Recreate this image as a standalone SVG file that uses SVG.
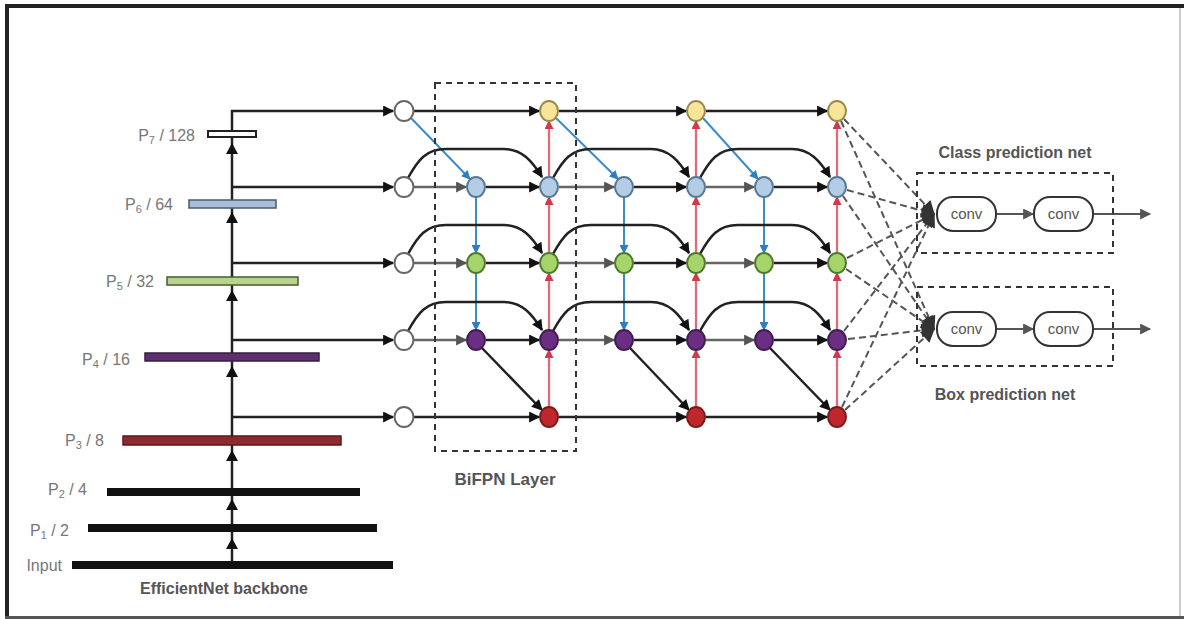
<svg xmlns="http://www.w3.org/2000/svg" width="1184" height="619" viewBox="0 0 1184 619">
<style>
.lbl{font-family:"Liberation Sans",Arial,sans-serif;font-size:16px;fill:#777}
.bold{font-family:"Liberation Sans",Arial,sans-serif;font-weight:bold;fill:#555}
.conv{font-family:"Liberation Sans",Arial,sans-serif;font-size:15px;fill:#555}
.blk{fill:none;stroke:#222;stroke-width:2.5;marker-end:url(#ab)}
.gry{fill:none;stroke:#666;stroke-width:2.5;marker-end:url(#ag)}
.blu{fill:none;stroke:#3a8ccc;stroke-width:2;marker-end:url(#abl)}
.red{fill:none;stroke:#e06a78;stroke-width:2.3;marker-end:url(#ar)}
.dsh{fill:none;stroke:#555;stroke-width:2;stroke-dasharray:7,4;marker-end:url(#ad)}
.box{fill:none;stroke:#333;stroke-width:2;stroke-dasharray:6,5}
.c0{fill:#fff;stroke:#666;stroke-width:2}
.cy{fill:#f8e59a;stroke:#9a8a50;stroke-width:2}
.cb{fill:#b3cde6;stroke:#5a7896;stroke-width:2}
.cg{fill:#a5d46a;stroke:#4e7a30;stroke-width:2}
.cp{fill:#6b2e83;stroke:#3e2050;stroke-width:2}
.cr{fill:#c0272d;stroke:#7a1c1c;stroke-width:2}
.cv{fill:#fff;stroke:#333;stroke-width:2}
</style>
<defs>
<marker id="ab" viewBox="0 0 10 10" refX="9" refY="5" markerWidth="14" markerHeight="11" markerUnits="userSpaceOnUse" orient="auto"><path d="M0,0L10,5L0,10z" fill="#111"/></marker>
<marker id="ag" viewBox="0 0 10 10" refX="9" refY="5" markerWidth="14" markerHeight="11" markerUnits="userSpaceOnUse" orient="auto"><path d="M0,0L10,5L0,10z" fill="#555"/></marker>
<marker id="abl" viewBox="0 0 10 10" refX="9" refY="5" markerWidth="12" markerHeight="9" markerUnits="userSpaceOnUse" orient="auto"><path d="M0,0L10,5L0,10z" fill="#2f7fc0"/></marker>
<marker id="ar" viewBox="0 0 10 10" refX="9" refY="5" markerWidth="12" markerHeight="9" markerUnits="userSpaceOnUse" orient="auto"><path d="M0,0L10,5L0,10z" fill="#d03a4a"/></marker>
<marker id="ad" viewBox="0 0 10 10" refX="9" refY="5" markerWidth="18" markerHeight="14" markerUnits="userSpaceOnUse" orient="auto"><path d="M0,0L10,5L0,10z" fill="#333"/></marker>
<marker id="ac" viewBox="0 0 10 10" refX="9" refY="5" markerWidth="14" markerHeight="11" markerUnits="userSpaceOnUse" orient="auto"><path d="M0,0L10,5L0,10z" fill="#555"/></marker>
</defs>
<rect width="1184" height="619" fill="#fff"/>
<g id="frame">
<rect x="5" y="4" width="1179" height="4" fill="#222"/>
<rect x="5" y="4" width="4" height="615" fill="#222"/>
<rect x="5" y="616" width="1179" height="3" fill="#555"/>
<rect x="1179" y="8" width="2" height="608" fill="#ccc"/>
</g>
<g id="connectors">
<path d="M232,565V111H393" fill="none" stroke="#222" stroke-width="2.5" marker-end="url(#ab)"/>
<g fill="#111">
<polygon points="226,154 232,143 238,154"/>
<polygon points="226,223 232,212 238,223"/>
<polygon points="226,301 232,290 238,301"/>
<polygon points="226,377 232,366 238,377"/>
<polygon points="226,461 232,450 238,461"/>
<polygon points="226,510 232,499 238,510"/>
<polygon points="226,549 232,538 238,549"/>
</g>
<path class="blk" d="M232,187H393"/>
<path class="blk" d="M232,263H393"/>
<path class="blk" d="M232,340H393"/>
<path class="blk" d="M232,417H393"/>
<!-- layer 1 -->
<path class="blk" d="M414,111H539"/>
<path class="gry" d="M414,187H466"/><path class="blk" d="M486,187H539"/>
<path class="gry" d="M414,263H466"/><path class="blk" d="M486,263H539"/>
<path class="gry" d="M414,340H466"/><path class="blk" d="M486,340H539"/>
<path class="blk" d="M414,417H539"/>
<path class="blu" d="M411,118L470,179"/>
<path class="blu" d="M476,197V253"/><path class="blu" d="M476,273V330"/>
<path class="red" d="M549,407V350"/><path class="red" d="M549,330V273"/><path class="red" d="M549,253V197"/><path class="red" d="M549,177V121"/>
<path class="blk" d="M482,348L542,410"/>
<path class="blk" d="M408,178C418,160 426,149 446,149L504,149C522,149 532,161 542,177"/>
<path class="blk" d="M408,254C418,236 426,225 446,225L504,225C522,225 532,237 542,253"/>
<path class="blk" d="M408,331C418,313 426,302 446,302L504,302C522,302 532,314 542,330"/>
<!-- layer 2 -->
<path class="blk" d="M559,111H686"/>
<path class="gry" d="M559,187H614"/><path class="blk" d="M634,187H686"/>
<path class="gry" d="M559,263H614"/><path class="blk" d="M634,263H686"/>
<path class="gry" d="M559,340H614"/><path class="blk" d="M634,340H686"/>
<path class="blk" d="M559,417H686"/>
<path class="blu" d="M556,118L618,179"/>
<path class="blu" d="M624,197V253"/><path class="blu" d="M624,273V330"/>
<path class="red" d="M696,407V350"/><path class="red" d="M696,330V273"/><path class="red" d="M696,253V197"/><path class="red" d="M696,177V121"/>
<path class="blk" d="M630,348L689,410"/>
<path class="blk" d="M553,178C563,160 571,149 591,149L651,149C669,149 679,161 689,177"/>
<path class="blk" d="M553,254C563,236 571,225 591,225L651,225C669,225 679,237 689,253"/>
<path class="blk" d="M553,331C563,313 571,302 591,302L651,302C669,302 679,314 689,330"/>
<!-- layer 3 -->
<path class="blk" d="M706,111H827"/>
<path class="gry" d="M706,187H754"/><path class="blk" d="M774,187H827"/>
<path class="gry" d="M706,263H754"/><path class="blk" d="M774,263H827"/>
<path class="gry" d="M706,340H754"/><path class="blk" d="M774,340H827"/>
<path class="blk" d="M706,417H827"/>
<path class="blu" d="M703,118L758,179"/>
<path class="blu" d="M764,197V253"/><path class="blu" d="M764,273V330"/>
<path class="red" d="M837,407V350"/><path class="red" d="M837,330V273"/><path class="red" d="M837,253V197"/><path class="red" d="M837,177V121"/>
<path class="blk" d="M770,348L830,410"/>
<path class="blk" d="M700,178C710,160 718,149 738,149L792,149C810,149 820,161 830,177"/>
<path class="blk" d="M700,254C710,236 718,225 738,225L792,225C810,225 820,237 830,253"/>
<path class="blk" d="M700,331C710,313 718,302 738,302L792,302C810,302 820,314 830,330"/>
<!-- to heads -->
<path class="dsh" d="M844,119L934,214"/><path class="dsh" d="M841,121L934,329"/>
<path class="dsh" d="M847,190L934,214"/><path class="dsh" d="M843,196L934,329"/>
<path class="dsh" d="M847,258L934,214"/><path class="dsh" d="M846,269L934,329"/>
<path class="dsh" d="M844,331L934,214"/><path class="dsh" d="M848,339L934,329"/>
<path class="dsh" d="M842,407L934,214"/><path class="dsh" d="M845,410L934,329"/>
<path d="M996,214H1033" fill="none" stroke="#555" stroke-width="2" marker-end="url(#ac)"/>
<path d="M1093,214H1150" fill="none" stroke="#555" stroke-width="2" marker-end="url(#ac)"/>
<path d="M996,329H1033" fill="none" stroke="#555" stroke-width="2" marker-end="url(#ac)"/>
<path d="M1093,329H1150" fill="none" stroke="#555" stroke-width="2" marker-end="url(#ac)"/>
</g>
<g id="backbone">
<g id="bar-p7"><rect x="208" y="131" width="48" height="6" fill="#fff" stroke="#222" stroke-width="2"/><text class="lbl" x="195" y="141" text-anchor="end">P<tspan font-size="11" dy="3">7</tspan><tspan dy="-3"> / 128</tspan></text></g>
<g id="bar-p6"><rect x="189" y="200" width="87" height="8" fill="#a9bfd8" stroke="#4a5a6a" stroke-width="1.5"/><text class="lbl" x="173" y="210" text-anchor="end">P<tspan font-size="11" dy="3">6</tspan><tspan dy="-3"> / 64</tspan></text></g>
<g id="bar-p5"><rect x="167" y="277" width="131" height="8" fill="#b6d48e" stroke="#4a5a2a" stroke-width="1.5"/><text class="lbl" x="154" y="287" text-anchor="end">P<tspan font-size="11" dy="3">5</tspan><tspan dy="-3"> / 32</tspan></text></g>
<g id="bar-p4"><rect x="145" y="353" width="174" height="8" fill="#5c2f6e" stroke="#3a1c46" stroke-width="1.5"/><text class="lbl" x="130" y="365" text-anchor="end">P<tspan font-size="11" dy="3">4</tspan><tspan dy="-3"> / 16</tspan></text></g>
<g id="bar-p3"><rect x="123" y="436" width="218" height="9" fill="#8e2a2e" stroke="#5a1a1a" stroke-width="1.5"/><text class="lbl" x="104" y="446" text-anchor="end">P<tspan font-size="11" dy="3">3</tspan><tspan dy="-3"> / 8</tspan></text></g>
<g id="bar-p2"><rect x="107" y="488" width="253" height="8" fill="#111"/><text class="lbl" x="87" y="495" text-anchor="end">P<tspan font-size="11" dy="3">2</tspan><tspan dy="-3"> / 4</tspan></text></g>
<g id="bar-p1"><rect x="88" y="524" width="289" height="8" fill="#111"/><text class="lbl" x="69" y="536" text-anchor="end">P<tspan font-size="11" dy="3">1</tspan><tspan dy="-3"> / 2</tspan></text></g>
<g id="bar-input"><rect x="72" y="561" width="321" height="8" fill="#111"/><text class="lbl" x="62" y="571" text-anchor="end" fill="#666">Input</text></g>
<text class="bold" x="224" y="594" font-size="16" text-anchor="middle">EfficientNet backbone</text>
</g>
<g id="nodes">
<g id="in-p7"><ellipse class="c0" cx="404" cy="111" rx="9.5" ry="10"/></g>
<g id="in-p6"><ellipse class="c0" cx="404" cy="187" rx="9.5" ry="10"/></g>
<g id="in-p5"><ellipse class="c0" cx="404" cy="263" rx="9.5" ry="10"/></g>
<g id="in-p4"><ellipse class="c0" cx="404" cy="340" rx="9.5" ry="10"/></g>
<g id="in-p3"><ellipse class="c0" cx="404" cy="417" rx="9.5" ry="10"/></g>
<g id="l1-mid-p6"><ellipse class="cb" cx="476" cy="187" rx="9" ry="10"/></g>
<g id="l1-mid-p5"><ellipse class="cg" cx="476" cy="263" rx="9" ry="10"/></g>
<g id="l1-mid-p4"><ellipse class="cp" cx="476" cy="340" rx="9" ry="10"/></g>
<g id="l1-out-p7"><ellipse class="cy" cx="549" cy="111" rx="9" ry="10"/></g>
<g id="l1-out-p6"><ellipse class="cb" cx="549" cy="187" rx="9" ry="10"/></g>
<g id="l1-out-p5"><ellipse class="cg" cx="549" cy="263" rx="9" ry="10"/></g>
<g id="l1-out-p4"><ellipse class="cp" cx="549" cy="340" rx="9" ry="10"/></g>
<g id="l1-out-p3"><ellipse class="cr" cx="549" cy="417" rx="9" ry="10"/></g>
<g id="l2-mid-p6"><ellipse class="cb" cx="624" cy="187" rx="9" ry="10"/></g>
<g id="l2-mid-p5"><ellipse class="cg" cx="624" cy="263" rx="9" ry="10"/></g>
<g id="l2-mid-p4"><ellipse class="cp" cx="624" cy="340" rx="9" ry="10"/></g>
<g id="l2-out-p7"><ellipse class="cy" cx="696" cy="111" rx="9" ry="10"/></g>
<g id="l2-out-p6"><ellipse class="cb" cx="696" cy="187" rx="9" ry="10"/></g>
<g id="l2-out-p5"><ellipse class="cg" cx="696" cy="263" rx="9" ry="10"/></g>
<g id="l2-out-p4"><ellipse class="cp" cx="696" cy="340" rx="9" ry="10"/></g>
<g id="l2-out-p3"><ellipse class="cr" cx="696" cy="417" rx="9" ry="10"/></g>
<g id="l3-mid-p6"><ellipse class="cb" cx="764" cy="187" rx="9" ry="10"/></g>
<g id="l3-mid-p5"><ellipse class="cg" cx="764" cy="263" rx="9" ry="10"/></g>
<g id="l3-mid-p4"><ellipse class="cp" cx="764" cy="340" rx="9" ry="10"/></g>
<g id="l3-out-p7"><ellipse class="cy" cx="837" cy="111" rx="9" ry="10"/></g>
<g id="l3-out-p6"><ellipse class="cb" cx="837" cy="187" rx="9" ry="10"/></g>
<g id="l3-out-p5"><ellipse class="cg" cx="837" cy="263" rx="9" ry="10"/></g>
<g id="l3-out-p4"><ellipse class="cp" cx="837" cy="340" rx="9" ry="10"/></g>
<g id="l3-out-p3"><ellipse class="cr" cx="837" cy="417" rx="9" ry="10"/></g>
</g>
<g id="bifpn-layer">
<rect class="box" x="435" y="83" width="141" height="368"/>
<text class="bold" x="505" y="485" font-size="17" text-anchor="middle">BiFPN Layer</text>
</g>
<g id="class-net">
<rect class="box" x="917" y="173" width="196" height="80"/>
<text class="bold" x="1015" y="158" font-size="16" text-anchor="middle">Class prediction net</text>
<g id="class-conv1"><rect class="cv" x="937" y="197" width="59" height="34" rx="16"/><text class="conv" x="966.5" y="219" text-anchor="middle">conv</text></g>
<g id="class-conv2"><rect class="cv" x="1034" y="197" width="59" height="34" rx="16"/><text class="conv" x="1063.5" y="219" text-anchor="middle">conv</text></g>
</g>
<g id="box-net">
<rect class="box" x="917" y="287" width="196" height="79"/>
<text class="bold" x="1005" y="400" font-size="16" text-anchor="middle">Box prediction net</text>
<g id="box-conv1"><rect class="cv" x="937" y="312" width="59" height="34" rx="16"/><text class="conv" x="966.5" y="334" text-anchor="middle">conv</text></g>
<g id="box-conv2"><rect class="cv" x="1034" y="312" width="59" height="34" rx="16"/><text class="conv" x="1063.5" y="334" text-anchor="middle">conv</text></g>
</g>
</svg>
